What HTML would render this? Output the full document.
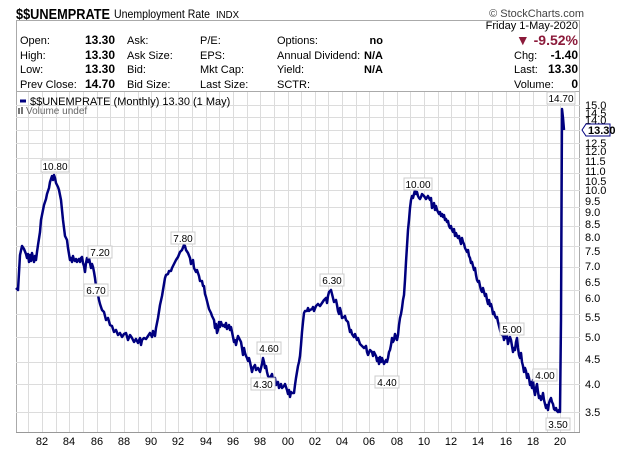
<!DOCTYPE html>
<html><head><meta charset="utf-8"><style>
body{margin:0;background:#fff;width:620px;height:449px;overflow:hidden;font-family:"Liberation Sans",sans-serif;}
svg text{font-family:"Liberation Sans",sans-serif;}
</style></head><body>
<svg width="620" height="449" xmlns="http://www.w3.org/2000/svg">
<text x="16" y="19" font-size="15" font-weight="bold" fill="#000" textLength="94" lengthAdjust="spacingAndGlyphs">$$UNEMPRATE</text>
<text x="114" y="18" font-size="12" fill="#000" textLength="96" lengthAdjust="spacingAndGlyphs">Unemployment Rate</text>
<text x="216" y="18" font-size="10" fill="#000" textLength="23" lengthAdjust="spacingAndGlyphs">INDX</text>
<text x="584" y="17" font-size="11" fill="#444" text-anchor="end">© StockCharts.com</text>
<rect x="16.5" y="20.5" width="563" height="412" fill="none" stroke="#aaa"/>
<line x1="16" y1="91.5" x2="580" y2="91.5" stroke="#aaa"/>
<g font-size="11" fill="#000">
<text x="578" y="29" text-anchor="end">Friday  1-May-2020</text>
<text x="20" y="44">Open:</text><text x="20" y="59">High:</text><text x="20" y="73">Low:</text><text x="20" y="88">Prev Close:</text>
<g font-weight="bold" text-anchor="end" font-size="12"><text x="115" y="44">13.30</text><text x="115" y="59">13.30</text><text x="115" y="73">13.30</text><text x="115" y="88">14.70</text></g>
<text x="127" y="44">Ask:</text><text x="127" y="59">Ask Size:</text><text x="127" y="73">Bid:</text><text x="127" y="88">Bid Size:</text>
<text x="200" y="44">P/E:</text><text x="200" y="59">EPS:</text><text x="200" y="73">Mkt Cap:</text><text x="200" y="88">Last Size:</text>
<text x="277" y="44">Options:</text><text x="277" y="59">Annual Dividend:</text><text x="277" y="73">Yield:</text><text x="277" y="88">SCTR:</text>
<g font-weight="bold" text-anchor="end"><text x="383" y="44">no</text><text x="383" y="59">N/A</text><text x="383" y="73">N/A</text></g>
<text x="578" y="45" text-anchor="end" fill="#8b1a3a" font-size="14" font-weight="bold">▼ -9.52%</text>
<text x="514" y="59">Chg:</text><text x="578" y="59" text-anchor="end" font-weight="bold" font-size="12">-1.40</text>
<text x="514" y="73">Last:</text><text x="578" y="73" text-anchor="end" font-weight="bold" font-size="12">13.30</text>
<text x="514" y="88">Volume:</text><text x="578" y="88" text-anchor="end" font-weight="bold" font-size="12">0</text>
</g>
<g stroke="#dcdcdc">
<line x1="28.5" y1="92" x2="28.5" y2="432"/><line x1="42.5" y1="92" x2="42.5" y2="432"/><line x1="56.5" y1="92" x2="56.5" y2="432"/><line x1="69.5" y1="92" x2="69.5" y2="432"/><line x1="83.5" y1="92" x2="83.5" y2="432"/><line x1="97.5" y1="92" x2="97.5" y2="432"/><line x1="110.5" y1="92" x2="110.5" y2="432"/><line x1="124.5" y1="92" x2="124.5" y2="432"/><line x1="138.5" y1="92" x2="138.5" y2="432"/><line x1="151.5" y1="92" x2="151.5" y2="432"/><line x1="165.5" y1="92" x2="165.5" y2="432"/><line x1="178.5" y1="92" x2="178.5" y2="432"/><line x1="192.5" y1="92" x2="192.5" y2="432"/><line x1="206.5" y1="92" x2="206.5" y2="432"/><line x1="219.5" y1="92" x2="219.5" y2="432"/><line x1="233.5" y1="92" x2="233.5" y2="432"/><line x1="247.5" y1="92" x2="247.5" y2="432"/><line x1="260.5" y1="92" x2="260.5" y2="432"/><line x1="274.5" y1="92" x2="274.5" y2="432"/><line x1="288.5" y1="92" x2="288.5" y2="432"/><line x1="301.5" y1="92" x2="301.5" y2="432"/><line x1="315.5" y1="92" x2="315.5" y2="432"/><line x1="328.5" y1="92" x2="328.5" y2="432"/><line x1="342.5" y1="92" x2="342.5" y2="432"/><line x1="356.5" y1="92" x2="356.5" y2="432"/><line x1="369.5" y1="92" x2="369.5" y2="432"/><line x1="383.5" y1="92" x2="383.5" y2="432"/><line x1="397.5" y1="92" x2="397.5" y2="432"/><line x1="410.5" y1="92" x2="410.5" y2="432"/><line x1="424.5" y1="92" x2="424.5" y2="432"/><line x1="438.5" y1="92" x2="438.5" y2="432"/><line x1="451.5" y1="92" x2="451.5" y2="432"/><line x1="465.5" y1="92" x2="465.5" y2="432"/><line x1="478.5" y1="92" x2="478.5" y2="432"/><line x1="492.5" y1="92" x2="492.5" y2="432"/><line x1="506.5" y1="92" x2="506.5" y2="432"/><line x1="519.5" y1="92" x2="519.5" y2="432"/><line x1="533.5" y1="92" x2="533.5" y2="432"/><line x1="547.5" y1="92" x2="547.5" y2="432"/><line x1="560.5" y1="92" x2="560.5" y2="432"/><line x1="574.5" y1="92" x2="574.5" y2="432"/>
<line x1="16" y1="105.5" x2="580" y2="105.5"/><line x1="16" y1="117.5" x2="580" y2="117.5"/><line x1="16" y1="130.5" x2="580" y2="130.5"/><line x1="16" y1="143.5" x2="580" y2="143.5"/><line x1="16" y1="158.5" x2="580" y2="158.5"/><line x1="16" y1="173.5" x2="580" y2="173.5"/><line x1="16" y1="190.5" x2="580" y2="190.5"/><line x1="16" y1="207.5" x2="580" y2="207.5"/><line x1="16" y1="226.5" x2="580" y2="226.5"/><line x1="16" y1="246.5" x2="580" y2="246.5"/><line x1="16" y1="267.5" x2="580" y2="267.5"/><line x1="16" y1="290.5" x2="580" y2="290.5"/><line x1="16" y1="314.5" x2="580" y2="314.5"/><line x1="16" y1="337.5" x2="580" y2="337.5"/><line x1="16" y1="362.5" x2="580" y2="362.5"/><line x1="16" y1="384.5" x2="580" y2="384.5"/><line x1="16" y1="412.5" x2="580" y2="412.5"/>
</g>
<line x1="16" y1="432.5" x2="580" y2="432.5" stroke="#999"/>
<g font-size="11" fill="#000" text-anchor="middle">
<text x="42" y="445">82</text><text x="69" y="445">84</text><text x="97" y="445">86</text><text x="124" y="445">88</text><text x="151" y="445">90</text><text x="178" y="445">92</text><text x="206" y="445">94</text><text x="233" y="445">96</text><text x="260" y="445">98</text><text x="288" y="445">00</text><text x="315" y="445">02</text><text x="342" y="445">04</text><text x="369" y="445">06</text><text x="397" y="445">08</text><text x="424" y="445">10</text><text x="451" y="445">12</text><text x="478" y="445">14</text><text x="506" y="445">16</text><text x="533" y="445">18</text><text x="560" y="445">20</text>
</g>
<g font-size="11" fill="#000">
<text x="585" y="109">15.0</text><text x="585" y="117">14.5</text><text x="585" y="124">14.0</text><text x="585" y="147">12.5</text><text x="585" y="155">12.0</text><text x="585" y="165">11.5</text><text x="585" y="175">11.0</text><text x="585" y="185">10.5</text><text x="585" y="194">10.0</text><text x="585" y="205">9.5</text><text x="585" y="216">9.0</text><text x="585" y="228">8.5</text><text x="585" y="241">8.0</text><text x="585" y="255">7.5</text><text x="585" y="270">7.0</text><text x="585" y="286">6.5</text><text x="585" y="302">6.0</text><text x="585" y="321">5.5</text><text x="585" y="341">5.0</text><text x="585" y="363">4.5</text><text x="585" y="388">4.0</text><text x="585" y="416">3.5</text>
</g>
<path d="M582,130 L586,124 H610 V136 H586 Z" fill="#fff" stroke="#000080"/>
<text x="588" y="134" font-size="11" font-weight="bold" fill="#000">13.30</text>
<line x1="20" y1="101" x2="26" y2="101" stroke="#000080" stroke-width="3"/>
<text x="30" y="105" font-size="11" font-family="DejaVu Sans Mono" fill="#000">$$UNEMPRATE (Monthly) 13.30 (1 May)</text>
<rect x="18" y="108" width="2" height="6" fill="#777"/><rect x="21" y="107" width="2" height="7" fill="#777"/>
<text x="26" y="114" font-size="10" fill="#666">Volume undef</text>
<polyline fill="none" stroke="#00007f" stroke-width="2.5" stroke-linejoin="round" points="16,288 18,290 20,255 22,246 24,249 26,254 27,258 28,254 29,262 30,255 31,261 32,253 34,262 35,256 36,260 37,252 38,245 40,232 41,220 43,210 44,205 46,199 47,194 49,188 50,182 52,176 53,180 54,175 55,178 56,183 58,187 59,190 61,200 62,210 63,220 64,228 65,236 67,240 68,248 69,254 70,260 71,258 72,262 73,256 74,260 75,261 76,259 77,262 78,260 79,259 80,262 81,258 82,257 83,263 84,266 85,272 86,263 87,258 88,262 89,258 90,263 91,268 92,264 93,267 94,272 95,278 96,286 97,292 98,295 99,300 100,304 102,310 104,312 106,320 108,318 110,325 112,326 114,332 116,330 118,335 120,333 122,337 124,334 126,333 128,340 130,335 132,338 134,342 136,339 138,343 140,338 141,345 142,340 144,338 146,339 148,336 150,333 152,337 153,331 155,336 156,328 158,318 160,305 162,296 163,290 165,278 166,275 168,274 169,271 171,271 172,268 174,264 176,260 178,257 180,252 182,250 184,245 185,246 186,250 188,253 190,258 191,264 193,260 194,268 196,272 197,270 199,276 200,281 202,281 203,286 204,286 205,294 206,297 208,305 209,309 211,313 212,316 214,320 215,328 216,324 217,333 218,330 219,322 220,327 221,322 222,325 223,326 224,325 225,327 226,323 227,329 228,327 229,325 230,330 231,327 232,332 233,337 234,342 235,340 236,345 237,340 238,336 239,338 241,342 242,348 243,355 244,348 245,353 246,356 247,358 248,361 249,358 250,362 251,367 252,372 253,368 255,365 256,370 258,368 260,372 262,364 263,358 264,362 265,368 266,366 267,372 268,376 270,378 272,374 273,380 275,378 276,385 278,382 279,388 281,384 282,388 284,386 285,384 287,390 288,394 289,390 290,397 291,392 292,393 294,393 295,385 296,378 297,372 298,366 299,362 300,356 301,345 302,332 303,322 304,313 305,311 307,311 308,308 309,311 310,310 312,309 313,307 314,311 316,306 318,304 320,306 322,303 324,300 326,298 327,303 328,296 329,292 331,290 332,294 333,298 334,302 336,300 337,305 338,311 339,314 340,308 341,312 342,318 344,317 345,316 346,320 348,322 350,332 351,330 352,334 354,337 355,334 357,340 358,338 360,344 362,346 364,348 366,346 367,352 368,355 370,350 372,352 373,356 374,352 376,356 377,361 378,358 379,364 380,357 381,362 382,358 384,364 386,360 387,362 388,358 389,352 390,350 391,345 392,338 393,342 394,340 395,334 397,340 398,335 399,325 400,318 401,314 402,308 403,300 404,295 405,280 406,262 407,246 408,230 409,220 410,208 411,200 412,196 413,198 414,194 415,190 416,194 417,192 418,196 419,198 420,199 421,197 422,194 424,196 426,199 428,196 430,200 431,198 432,208 433,206 434,203 435,210 436,206 437,210 438,212 439,214 440,212 441,216 442,214 443,217 444,215 445,220 446,219 447,222 448,221 449,226 450,228 451,226 452,230 453,232 454,229 455,236 456,233 457,236 458,238 459,236 460,240 461,244 462,238 463,242 464,244 465,248 466,250 467,252 468,250 469,256 470,258 471,263 472,262 473,266 474,270 475,268 476,275 477,280 478,282 479,281 480,286 481,290 482,292 483,288 484,292 485,296 486,294 487,300 488,304 489,300 490,306 491,304 492,308 493,314 494,312 495,316 496,318 497,317 498,322 499,326 500,330 501,334 502,335 503,334 504,340 505,336 506,338 507,336 508,344 509,340 510,337 511,340 512,346 513,352 514,348 515,350 516,342 517,338 518,348 519,355 520,358 521,353 522,362 523,366 524,372 525,368 526,371 527,378 528,374 529,378 530,385 531,382 532,388 533,380 534,390 535,395 536,388 537,384 538,392 539,398 540,396 541,400 542,398 543,393 544,400 545,404 546,408 547,405 548,410 549,403 550,400 551,398 552,402 553,404 554,409 555,410 556,408 557,411 558,412 559,410 560,412 561,320 562,109 563,118 564,130"/>
<g font-size="10" fill="#000" text-anchor="middle">
<g fill="#fff" stroke="#ccc">
<rect x="41" y="160" width="28" height="12"/><rect x="88" y="246" width="24" height="12"/><rect x="84" y="284" width="24" height="12"/><rect x="171" y="232" width="24" height="12"/><rect x="257" y="342" width="24" height="12"/><rect x="251" y="378" width="24" height="12"/><rect x="320" y="274" width="24" height="12"/><rect x="375" y="376" width="24" height="12"/><rect x="404" y="178" width="28" height="12"/><rect x="500" y="323" width="24" height="12"/><rect x="533" y="369" width="24" height="12"/><rect x="546" y="418" width="24" height="12"/><rect x="547" y="92" width="28" height="12"/>
</g>
<text x="55" y="170">10.80</text><text x="100" y="256">7.20</text><text x="96" y="294">6.70</text><text x="183" y="242">7.80</text><text x="269" y="352">4.60</text><text x="263" y="388">4.30</text><text x="332" y="284">6.30</text><text x="387" y="386">4.40</text><text x="418" y="188">10.00</text><text x="512" y="333">5.00</text><text x="545" y="379">4.00</text><text x="558" y="428">3.50</text><text x="561" y="102">14.70</text>
</g>
</svg>
</body></html>
